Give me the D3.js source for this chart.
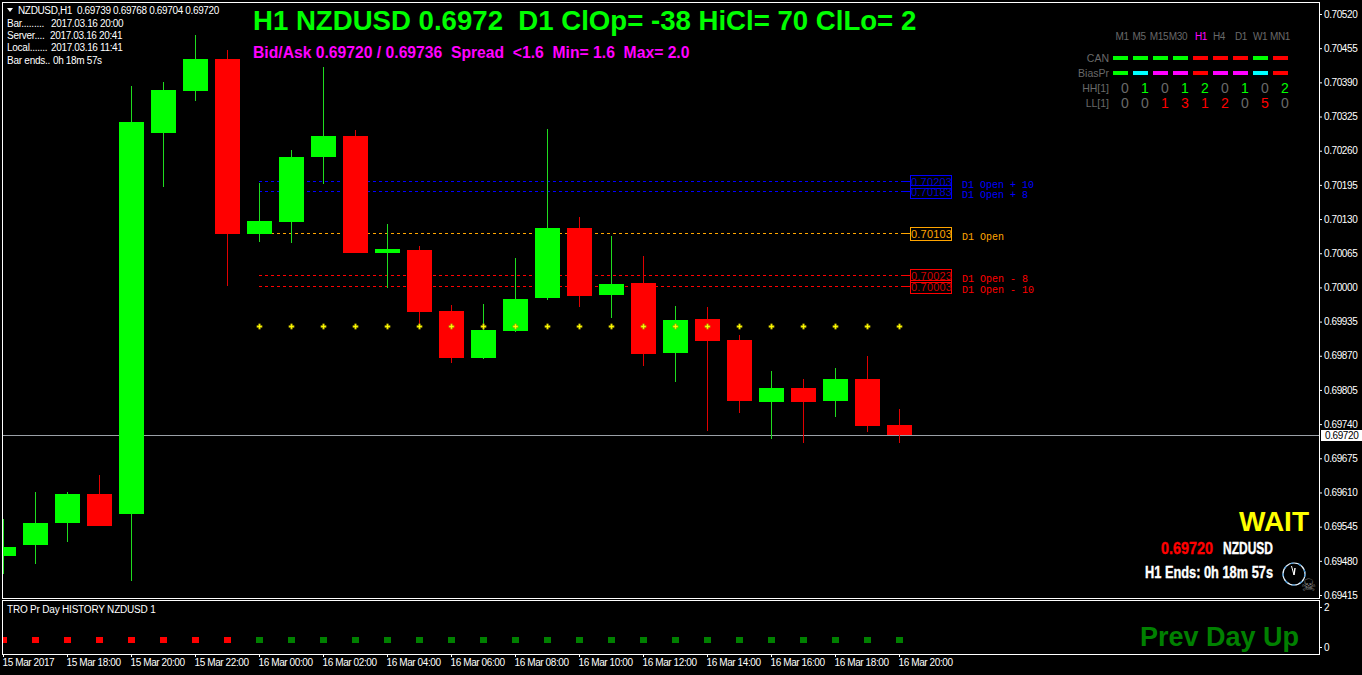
<!DOCTYPE html>
<html lang="en">
<head>
    <meta charset="UTF-8">
    <title>NZDUSD H1</title>
    <script src="https://cdnjs.cloudflare.com/ajax/libs/d3/7.8.5/d3.min.js"></script>
    <style>
        html, body { margin: 0; padding: 0; background: #000; overflow: hidden; }
        svg { display: block; }
        text { font-family: "Liberation Sans", Arial, sans-serif; white-space: pre; }
        .small { font-size: 10px; letter-spacing: -0.4px; fill: #fff; }
        .big { font-weight: bold; }
        .narrow { font-weight: bold; font-size: 17px; stroke-width: 0.4px; }
    </style>
</head>
<body>
<script>
    // candles, one per hour, 15 Mar 16:00 .. 16 Mar 20:00
    var opens  = [0.69489,0.69510,0.69552,0.69607,0.69569,0.70294,0.70374,0.70434,0.70102,0.70124,0.70248,0.70288,0.70065,0.70071,0.69955,0.69866,0.69917,0.69980,0.70113,0.69986,0.70008,0.69875,0.69940,0.69900,0.69782,0.69809,0.69784,0.69826,0.69739];
    var highs  = [0.69560,0.69611,0.69611,0.69643,0.70383,0.70391,0.70480,0.70452,0.70199,0.70261,0.70419,0.70299,0.70121,0.70079,0.69966,0.69968,0.70056,0.70301,0.70134,0.70098,0.70060,0.69965,0.69963,0.69910,0.69841,0.69826,0.69847,0.69870,0.69768];
    var lows   = [0.69455,0.69474,0.69516,0.69546,0.69442,0.70191,0.70355,0.70003,0.70086,0.70084,0.70197,0.70065,0.69999,0.69928,0.69856,0.69864,0.69915,0.69976,0.69963,0.69942,0.69851,0.69820,0.69727,0.69761,0.69712,0.69704,0.69754,0.69725,0.69704];
    var closes = [0.69506,0.69552,0.69607,0.69546,0.70315,0.70375,0.70434,0.70102,0.70126,0.70248,0.70288,0.70065,0.70073,0.69953,0.69866,0.69919,0.69978,0.70113,0.69984,0.70006,0.69873,0.69938,0.69898,0.69784,0.69809,0.69782,0.69826,0.69736,0.69720];

    var priceTicks = [0.70520,0.70455,0.70390,0.70325,0.70260,0.70195,0.70130,0.70065,0.70000,0.69935,0.69870,0.69805,0.69740,0.69675,0.69610,0.69545,0.69480,0.69415];
    var timeTickBars = [0,2,4,6,8,10,12,14,16,18,20,22,24,26,28];
    var timeLabels = ["15 Mar 2017","15 Mar 18:00","15 Mar 20:00","15 Mar 22:00","16 Mar 00:00","16 Mar 02:00","16 Mar 04:00","16 Mar 06:00","16 Mar 08:00","16 Mar 10:00","16 Mar 12:00","16 Mar 14:00","16 Mar 16:00","16 Mar 18:00","16 Mar 20:00"];

    var lastPrice = 0.69720;
    var levelPrices = [0.70203,0.70183,0.70103,0.70023,0.70003];
    var levelNames = ["D1 Open + 10","D1 Open + 8","D1 Open","D1 Open - 8","D1 Open - 10"];
    var levelColors = ["#0000ff","#0000ff","#ffa500","#ff0000","#ff0000"];

    var pivotBars = [8,9,10,11,12,13,14,15,16,17,18,19,20,21,22,23,24,25,26,27,28];
    var pivotPrice = 0.69927;

    // TRO panel
    var historyValue = 0.35;
    var historyUp = [0,0,0,0,0,0,0,0,1,1,1,1,1,1,1,1,1,1,1,1,1,1,1,1,1,1,1,1,1];

    // timeframe table
    var frames = ["M1","M5","M15","M30","H1","H4","D1","W1","MN1"];
    var canColors = ["#00ff00","#00ff00","#00ff00","#00ff00","#ff0000","#ff0000","#ff0000","#00ff00","#ff0000"];
    var biasColors = ["#00ff00","#00ffff","#ff00ff","#ff00ff","#ff0000","#ff00ff","#ff00ff","#00ffff","#ff0000"];
    var hhValues = [0,1,0,1,2,0,1,0,2];
    var llValues = [0,0,1,3,1,2,0,5,0];

    var infoNames = ["Bar.........","Server....","Local.......","Bar ends.."];
    var infoValues = ["2017.03.16 20:00","2017.03.16 20:41","2017.03.16 11:41","0h 18m 57s"];

    var svg = d3.select("body").append("svg").attr("width",1362).attr("height",675);
    svg.append("rect").attr("width",1362).attr("height",675).attr("fill","#000");

    var x = d3.scaleLinear().domain([0,28]).range([3,899]);
    var y = d3.scaleLinear().domain([0.69415,0.70520]).range([595,14]);
    var yInd = d3.scaleLinear().domain([0,2]).range([647,607]);
    var py = function(p){ return Math.round(y(p)); };

    svg.append("clipPath").attr("id","main").append("rect").attr("x",3).attr("y",3).attr("width",1316).attr("height",595);
    svg.append("clipPath").attr("id","ind").append("rect").attr("x",3).attr("y",601).attr("width",1316).attr("height",53);

    var plot = svg.append("g").attr("clip-path","url(#main)").attr("shape-rendering","crispEdges");

    //当前价格线
    plot.append("line").attr("x1",3).attr("x2",1319)
        .attr("y1",py(lastPrice)+0.5).attr("y2",py(lastPrice)+0.5)
        .attr("stroke","#9a9fa6");

    // D1 open level lines, under the candles
    plot.selectAll(".level").data(levelPrices).enter().append("line")
        .attr("class","level")
        .attr("x1",x(8)).attr("x2",910)
        .attr("y1",function(d){return py(d)+0.5;}).attr("y2",function(d){return py(d)+0.5;})
        .attr("stroke",function(d,i){return levelColors[i];})
        .attr("stroke-dasharray","3,3");
    plot.selectAll(".levelEnd").data(levelPrices).enter().append("line")
        .attr("class","levelEnd")
        .attr("x1",903).attr("x2",910)
        .attr("y1",function(d){return py(d)+0.5;}).attr("y2",function(d){return py(d)+0.5;})
        .attr("stroke",function(d,i){return levelColors[i];});

    var bars = opens.map(function(o,i){ return {i:i,o:o,h:highs[i],l:lows[i],c:closes[i],up:closes[i]>=o}; });

    plot.selectAll(".wick").data(bars).enter().append("rect")
        .attr("class","wick")
        .attr("x",function(d){return x(d.i);}).attr("width",1)
        .attr("y",function(d){return py(d.h);})
        .attr("height",function(d){return py(d.l)-py(d.h);})
        .attr("fill",function(d){return d.up ? "#1fdc1f" : "#e00000";});

    plot.selectAll(".body").data(bars).enter().append("rect")
        .attr("class","body")
        .attr("x",function(d){return x(d.i)-12;}).attr("width",25)
        .attr("y",function(d){return py(Math.max(d.o,d.c));})
        .attr("height",function(d){return py(Math.min(d.o,d.c))-py(Math.max(d.o,d.c));})
        .attr("fill",function(d){return d.up ? "#00ff00" : "#ff0000";});

    // yellow pivot markers
    svg.append("g").selectAll("path").data(pivotBars).enter().append("path")
        .attr("d",d3.symbol().type(d3.symbolCross).size(16))
        .attr("transform",function(d){return "translate("+(x(d)+0.5)+","+(py(pivotPrice)+0.5)+")";})
        .attr("fill","#ffff00").attr("stroke","#8a7a00").attr("stroke-width",0.4);

    // level price boxes and names
    var boxes = svg.append("g");
    boxes.selectAll("rect").data(levelPrices).enter().append("rect")
        .attr("x",910.5).attr("width",41)
        .attr("y",function(d){return py(d)-5.5;}).attr("height",12.5)
        .attr("fill","none").attr("stroke",function(d,i){return levelColors[i];})
        .attr("shape-rendering","crispEdges");
    boxes.selectAll(".boxText").data(levelPrices).enter().append("text")
        .attr("class","boxText")
        .attr("x",911).attr("y",function(d){return py(d)+5;})
        .attr("font-size",11).attr("letter-spacing",0.2)
        .attr("fill",function(d,i){return i===2 ? "#ffa500" : (levelColors[i]==="#0000ff" ? "#0000d0" : "#d00000");})
        .text(d3.format(".5f"));
    boxes.selectAll(".levelName").data(levelPrices).enter().append("text")
        .attr("class","levelName")
        .attr("x",962).attr("y",function(d){return py(d)+7;})
        .attr("font-size",10).style("font-family","'Liberation Mono', monospace")
        .attr("fill",function(d,i){return levelColors[i];})
        .text(function(d,i){return levelNames[i];});

    // indicator panel squares
    svg.append("g").attr("clip-path","url(#ind)").attr("shape-rendering","crispEdges")
        .selectAll("rect").data(historyUp).enter().append("rect")
        .attr("x",function(d,i){return x(i)-3;}).attr("width",7)
        .attr("y",Math.round(yInd(historyValue))-3).attr("height",6)
        .attr("fill",function(d){return d ? "#008000" : "#ff0000";});

    // frames
    var frame = svg.append("g").attr("fill","none").attr("stroke","#fff").attr("shape-rendering","crispEdges");
    frame.append("rect").attr("x",2.5).attr("y",2.5).attr("width",1317).attr("height",596);
    frame.append("rect").attr("x",2.5).attr("y",600.5).attr("width",1317).attr("height",54);

    // axes
    var yAxis = d3.axisRight(y).tickValues(priceTicks).tickFormat(d3.format(".5f")).tickSize(3).tickPadding(2);
    var gy = svg.append("g").attr("transform","translate(1319,0)").call(yAxis);
    var indAxis = d3.axisRight(yInd).tickValues([0,2]).tickFormat(d3.format("d")).tickSize(3).tickPadding(2);
    var gi = svg.append("g").attr("transform","translate(1319,0)").call(indAxis);
    var xAxis = d3.axisBottom(x).tickValues(timeTickBars).tickFormat(function(d,i){return timeLabels[i];}).tickSize(3);
    var gx = svg.append("g").attr("transform","translate(0,654)").call(xAxis);
    [gy,gi,gx].forEach(function(g){
        g.select(".domain").remove();
        g.selectAll("line").attr("stroke","#fff");
        g.selectAll("text").attr("class","small").attr("fill","#fff").style("font-family","'Liberation Sans'");
    });
    gx.selectAll("text").attr("text-anchor","start").attr("x",-1).attr("y",5);

    svg.append("rect").attr("x",1321).attr("y",430).attr("width",41).attr("height",11).attr("fill","#fff");
    svg.append("text").attr("class","small").attr("x",1325).attr("y",439).style("fill","#000").text(d3.format(".5f")(lastPrice));

    // top left labels
    svg.append("path").attr("d","M7,8 L13,8 L10,12 Z").attr("fill","#fff");
    svg.append("text").attr("class","small").attr("x",18).attr("y",14).style("letter-spacing","-0.35px").text("NZDUSD,H1  0.69739 0.69768 0.69704 0.69720");
    svg.selectAll(".info").data(infoNames).enter().append("text")
        .attr("class","small info").attr("x",7)
        .attr("y",function(d,i){return 27+12.2*i;})
        .style("letter-spacing","-0.25px")
        .text(function(d){return d;});
    svg.selectAll(".infoValue").data(infoValues).enter().append("text")
        .attr("class","small infoValue")
        .attr("x",function(d,i){return [51,50,51,53][i];})
        .attr("y",function(d,i){return 27+12.2*i;})
        .style("letter-spacing","-0.35px")
        .text(function(d){return d;});
    svg.append("text").attr("class","small").attr("x",7).attr("y",613).style("letter-spacing","-0.2px").text("TRO Pr Day HISTORY NZDUSD 1");

    // headline
    svg.append("text").attr("class","big").attr("x",253).attr("y",30).attr("font-size",27.6).attr("fill","#00ff00")
        .text("H1 NZDUSD 0.6972  D1 ClOp= -38 HiCl= 70 ClLo= 2");
    svg.append("text").attr("class","big").attr("x",253).attr("y",58).attr("font-size",15.7).attr("fill","#ff00ff")
        .text("Bid/Ask 0.69720 / 0.69736  Spread  <1.6  Min= 1.6  Max= 2.0");

    // timeframe table
    var col = function(i){ return 1113+20*i; };
    svg.selectAll(".frameName").data(frames).enter().append("text")
        .attr("class","frameName small")
        .attr("x",function(d,i){return [1122,1139,1159,1178,1201,1219,1241,1260,1280][i];})
        .attr("y",40).attr("text-anchor","middle")
        .style("fill",function(d){return d==="H1" ? "#ff00ff" : "#696969";})
        .text(function(d){return d;});
    [["CAN",58,canColors],["BiasPr",73,biasColors]].forEach(function(r){
        svg.append("text").attr("x",1109).attr("y",r[1]+4).attr("text-anchor","end").attr("font-size",10.5).attr("fill","#696969").text(r[0]);
        svg.append("g").attr("shape-rendering","crispEdges").selectAll("rect").data(r[2]).enter().append("rect")
            .attr("x",function(d,i){return col(i);}).attr("y",r[1]-2).attr("width",15).attr("height",4)
            .attr("fill",function(d){return d;});
    });
    [["HH[1]",88,hhValues,"#00ff00"],["LL[1]",103,llValues,"#ff0000"]].forEach(function(r){
        svg.append("text").attr("x",1109).attr("y",r[1]+4).attr("text-anchor","end").attr("font-size",10.5).attr("fill","#696969").text(r[0]);
        svg.selectAll(".n"+r[1]).data(r[2]).enter().append("text")
            .attr("class","n"+r[1])
            .attr("x",function(d,i){return col(i)+12;}).attr("y",r[1]+5).attr("text-anchor","middle")
            .attr("font-size",14)
            .attr("fill",function(d){return d>0 ? r[3] : "#696969";})
            .text(function(d){return d;});
    });

    // lower right
    svg.append("text").attr("class","big").attr("x",1239).attr("y",531).attr("font-size",28).attr("fill","#ffff00").text("WAIT");
    svg.append("text").attr("class","narrow").attr("x",1161).attr("y",554).attr("fill","#ff0000").attr("stroke","#ff0000")
        .attr("textLength",52).attr("lengthAdjust","spacingAndGlyphs").text("0.69720");
    svg.append("text").attr("class","narrow").attr("x",1223).attr("y",554).attr("fill","#fff").attr("stroke","#fff")
        .attr("textLength",50).attr("lengthAdjust","spacingAndGlyphs").text("NZDUSD");
    svg.append("text").attr("class","narrow").attr("x",1145).attr("y",578).attr("fill","#fff").attr("stroke","#fff")
        .attr("textLength",128).attr("lengthAdjust","spacingAndGlyphs").text("H1 Ends: 0h 18m 57s");
    svg.append("text").attr("class","big").attr("x",1140).attr("y",646).attr("font-size",27).attr("fill","#008000").text("Prev Day Up");

    // clock and skull
    var clock = svg.append("g").attr("transform","translate(1294,574)").attr("fill","none");
    clock.append("circle").attr("r",11).attr("stroke","#e8f4ff").attr("stroke-width",1.2);
    clock.append("circle").attr("r",11).attr("stroke","#3a8fd0").attr("stroke-width",1.2).attr("stroke-dasharray","3,5");
    clock.append("line").attr("x1",0).attr("y1",1).attr("x2",-2.5).attr("y2",-8).attr("stroke","#fff");
    clock.append("line").attr("x1",0).attr("y1",1).attr("x2",1).attr("y2",-6).attr("stroke","#fff").attr("stroke-width",1.4);
    svg.append("text").attr("x",1301).attr("y",591).attr("font-size",17).style("font-family","'DejaVu Sans'").attr("fill","#808080").text("\u2620");
</script>
</body>
</html>
